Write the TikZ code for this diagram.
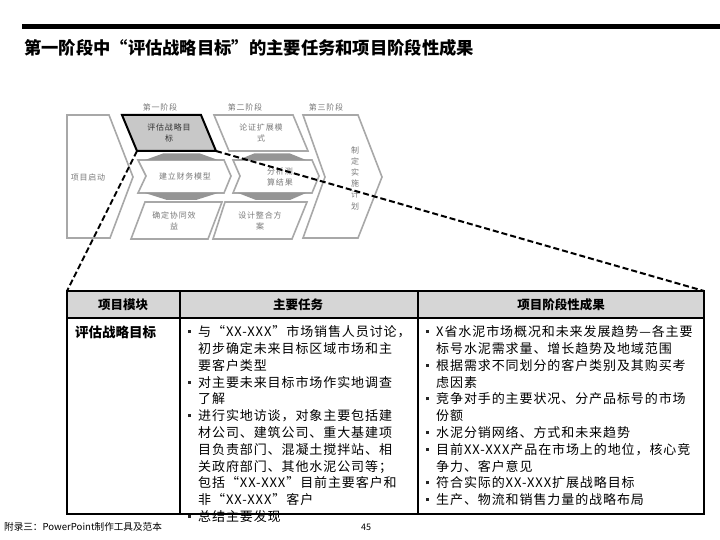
\documentclass[tikz,border=0pt]{standalone}
\usepackage{fontspec}
\setmainfont{Noto Sans CJK SC}
\newfontfamily\cjkls{Noto Sans CJK SC}[LetterSpace=10]
\newfontfamily\cjkmd{Noto Sans CJK SC}[LetterSpace=7]
\definecolor{shapegray}{HTML}{A8A8A8}
\definecolor{conngray}{HTML}{959595}
\definecolor{txtgray}{HTML}{7A7A7A}
\definecolor{hlfill}{HTML}{C8C8C8}
\definecolor{hdrfill}{HTML}{D6D6D6}
\newcommand{\tbul}{\makebox[10pt][l]{\raisebox{3.6pt}{\color{black!85}\rule{3pt}{3pt}}}}
\newcommand{\tind}{\hspace*{10pt}}
\begin{document}
\begin{tikzpicture}[x=1pt,y=-1pt,
  stagebox/.style={draw=shapegray, line width=1.6pt, fill=white},
  connbox/.style={fill=conngray},
  lbl/.style={font=\cjkls\fontsize{8}{11}\selectfont, text=txtgray, align=center, inner sep=0},
  hdr/.style={font=\bfseries\fontsize{12.5}{14}\selectfont, inner sep=0},
  body/.style={font=\cjkmd\fontsize{13}{16.8}\selectfont, align=left, anchor=north west, inner sep=0},
  dashline/.style={line width=2pt, dash pattern=on 6pt off 3pt},
  tbl/.style={line width=2pt}]
\useasboundingbox (0,0) rectangle (720,540);

% title bar and title
\fill (22,24.5) rectangle (720,29.5);
\node[anchor=west, inner sep=0, font=\bfseries\fontsize{17.3}{20}\selectfont] (title) at (24,48) {第一阶段中“评估战略目标”的主要任务和项目阶段性成果};

% ---- top flow diagram ----
% left chevron
\draw[stagebox] (67,115) -- (109,115) -- (133,177) -- (110,238) -- (67,238) -- cycle;
% column 1
\draw[stagebox] (138,160) -- (224,160) -- (231,176) -- (224,193) -- (138,193) -- (146,176) -- cycle;
\draw[stagebox] (145,202) -- (222,202) -- (208,239) -- (131,239) -- cycle;
\fill[connbox] (145,160) -- (163,153.5) -- (200,153.5) -- (218,160) -- cycle;
\fill[connbox] (145,193) -- (218,193) -- (196,200) -- (167,200) -- cycle;
% column 2
\draw[stagebox] (214,115) -- (293,115) -- (308,151) -- (229,151) -- cycle;
\draw[stagebox] (233,160) -- (312,160) -- (319,176) -- (312,193) -- (233,193) -- (240,176) -- cycle;
\draw[stagebox] (225,202) -- (307,202) -- (292,239) -- (213,239) -- cycle;
\fill[connbox] (238,160) -- (254,153.5) -- (290,153.5) -- (306,160) -- cycle;
\fill[connbox] (238,193) -- (306,193) -- (290,200) -- (256,200) -- cycle;
% column 3
\draw[stagebox] (303,115) -- (358,115) -- (382,177) -- (358,238) -- (303,238) -- (325,177) -- cycle;
% highlighted box
\draw[line width=2pt, fill=hlfill] (122,115) -- (201,115) -- (216,151) -- (137,151) -- cycle;

% stage labels
\node[lbl] (s1) at (160,107) {第一阶段};
\node[lbl] (s2) at (245,107) {第二阶段};
\node[lbl] (s3) at (326,107) {第三阶段};
% texts
\node[lbl] (t0) at (88,177) {项目启动};
\node[lbl, text=black!80] (t1) at (169,133) {评估战略目\\标};
\node[lbl] (t2) at (185,176) {建立财务模型};
\node[lbl] (t3) at (174,221) {确定协同效\\益};
\node[lbl] (t4) at (261,133) {论证扩展模\\式};
\node[lbl] (t5) at (280,177) {分析测\\算结果};
\node[lbl] (t6) at (260,221) {设计整合方\\案};
\node[lbl, font=\cjkls\fontsize{8}{11.2}\selectfont] (t7) at (355,178) {制\\定\\实\\施\\计\\划};

% ---- table ----
\coordinate (ttl) at (67,291);
\coordinate (ttr) at (704,291);
\coordinate (hbl) at (137,151);
\coordinate (hbr) at (216,151);
\fill[hdrfill] (67,291) rectangle (704,318);
% body texts
\node[font=\bfseries\fontsize{13.5}{15}\selectfont, anchor=west, inner sep=0] (mod) at (75,332) {评估战略目标};
\node[body] (tasks) at (188,325.5) {%
\tbul 与“XX-XXX”市场销售人员讨论，\\
\tind 初步确定未来目标区域市场和主\\
\tind 要客户类型\\
\tbul 对主要未来目标市场作实地调查\\
\tind 了解\\
\tbul 进行实地访谈，对象主要包括建\\
\tind 材公司、建筑公司、重大基建项\\
\tind 目负责部门、混凝土搅拌站、相\\
\tind 关政府部门、其他水泥公司等；\\
\tind 包括“XX-XXX”目前主要客户和\\
\tind 非“XX-XXX”客户\\
\tbul 总结主要发现};
\node[body] (results) at (426,325.5) {%
\tbul X省水泥市场概况和未来发展趋势—各主要\\
\tind 标号水泥需求量、增长趋势及地域范围\\
\tbul 根据需求不同划分的客户类别及其购买考\\
\tind 虑因素\\
\tbul 竞争对手的主要状况、分产品标号的市场\\
\tind 份额\\
\tbul 水泥分销网络、方式和未来趋势\\
\tbul 目前XX-XXX产品在市场上的地位，核心竞\\
\tind 争力、客户意见\\
\tbul 符合实际的XX-XXX扩展战略目标\\
\tbul 生产、物流和销售力量的战略布局};
% grid
\draw[tbl] (67,291) rectangle (704,514);
\draw[tbl] (67,318) -- (704,318);
\draw[tbl] (180,291) -- (180,514);
\draw[tbl] (418,291) -- (418,514);
% headers
\node[hdr] (h1) at (123,305) {项目模块};
\node[hdr] (h2) at (298,305) {主要任务};
\node[hdr] (h3) at (561,305) {项目阶段性成果};

% dashed zoom lines
\draw[dashline] (hbl) -- (ttl);
\draw[dashline] (hbr) -- (ttr);

% footer
\node[anchor=west, inner sep=0, font=\fontsize{9.6}{11}\selectfont] (foot) at (4,527) {附录三：PowerPoint制作工具及范本};
\node[inner sep=0, font=\fontsize{9}{10}\selectfont] (page) at (366,527) {45};
\end{tikzpicture}
\end{document}
